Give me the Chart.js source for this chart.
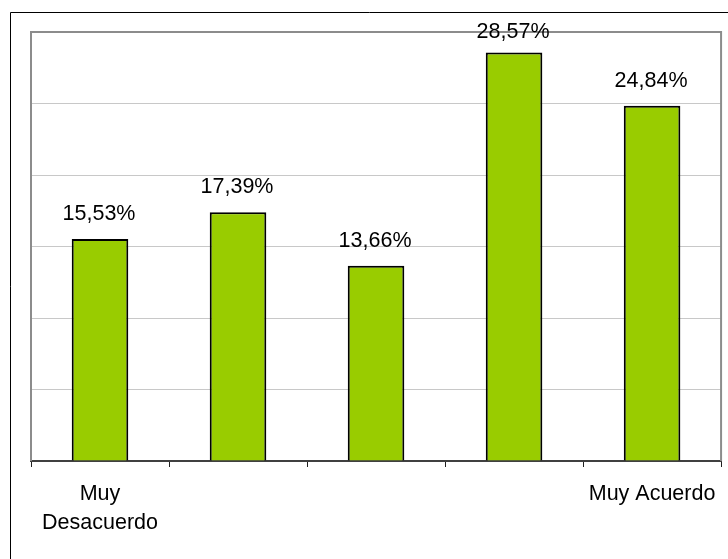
<!DOCTYPE html>
<html>
<head>
<meta charset="utf-8">
<script src="https://cdn.jsdelivr.net/npm/chart.js@4/dist/chart.umd.min.js"></script>
<style>
  body { margin: 0; background: #fff; }
  #wrap { position: relative; width: 728px; height: 559px; }
</style>
</head>
<body>
<div id="wrap"><canvas id="myChart" width="728" height="559"></canvas></div>
<script>
const categories = [['Muy', 'Desacuerdo'], '', '', '', 'Muy Acuerdo'];
const values = [15.53, 17.39, 13.66, 28.57, 24.84];
const valueLabels = ['15,53%', '17,39%', '13,66%', '28,57%', '24,84%'];
const yMax = 30;
const yStep = 5;

const FONT = "'Liberation Sans', Arial, sans-serif";

// outer frame + grey plot frame
const framePlugin = {
  id: 'frame',
  beforeDraw(chart) {
    const c = chart.ctx;
    c.save();
    c.fillStyle = '#fff';
    c.fillRect(0, 0, chart.width, chart.height);
    c.strokeStyle = '#000';
    c.lineWidth = 1;
    c.beginPath();
    c.moveTo(10.5, chart.height + 5);
    c.lineTo(10.5, 12.5);
    c.lineTo(chart.width + 5, 12.5);
    c.stroke();
    c.restore();
  },
  beforeDatasetsDraw(chart) {
    const a = chart.chartArea;
    const c = chart.ctx;
    c.save();
    c.strokeStyle = '#8c8c8c';
    c.lineWidth = 2;
    c.beginPath();
    c.moveTo(a.left, a.bottom);
    c.lineTo(a.left, a.top);
    c.lineTo(a.right, a.top);
    c.lineTo(a.right, a.bottom);
    c.stroke();
    c.restore();
  }
};

// value labels over the bars (kept from running off the top, like excel does)
const valueLabelPlugin = {
  id: 'valueLabels',
  afterDatasetsDraw(chart) {
    const c = chart.ctx;
    const meta = chart.getDatasetMeta(0);
    c.save();
    c.font = '21.5px ' + FONT;
    c.fillStyle = '#000';
    c.textAlign = 'center';
    c.textBaseline = 'alphabetic';
    meta.data.forEach((bar, i) => {
      const y = Math.max(bar.y - 19, 38);
      c.fillText(valueLabels[i], bar.x - 1, y);
    });
    c.restore();
  }
};

const ctx = document.getElementById('myChart');

new Chart(ctx, {
  type: 'bar',
  data: {
    labels: categories,
    datasets: [{
      data: values,
      backgroundColor: '#99cc00',
      borderColor: '#000',
      borderWidth: 2,
      categoryPercentage: 1,
      barPercentage: 0.41
    }]
  },
  options: {
    responsive: false,
    animation: false,
    devicePixelRatio: 1,
    layout: { padding: { left: 31, top: 32, right: 6, bottom: 0 } },
    plugins: {
      legend: { display: false },
      tooltip: { enabled: false }
    },
    scales: {
      x: {
        grid: { display: true, drawOnChartArea: false, tickLength: 6, color: '#202020', lineWidth: 1 },
        border: { display: true, color: '#404040', width: 2 },
        ticks: {
          color: '#000',
          padding: 12,
          maxRotation: 0,
          autoSkip: false,
          font: { family: FONT, size: 21.5, lineHeight: 1.38 }
        },
        afterFit(scale) { scale.height = 98; }
      },
      y: {
        min: 0,
        max: yMax,
        ticks: { display: false, stepSize: yStep },
        grid: { color: '#c8c8c8', lineWidth: 1, drawTicks: false },
        border: { display: false },
        afterFit(scale) { scale.width = 0; }
      }
    }
  },
  plugins: [framePlugin, valueLabelPlugin]
});
</script>
</body>
</html>
